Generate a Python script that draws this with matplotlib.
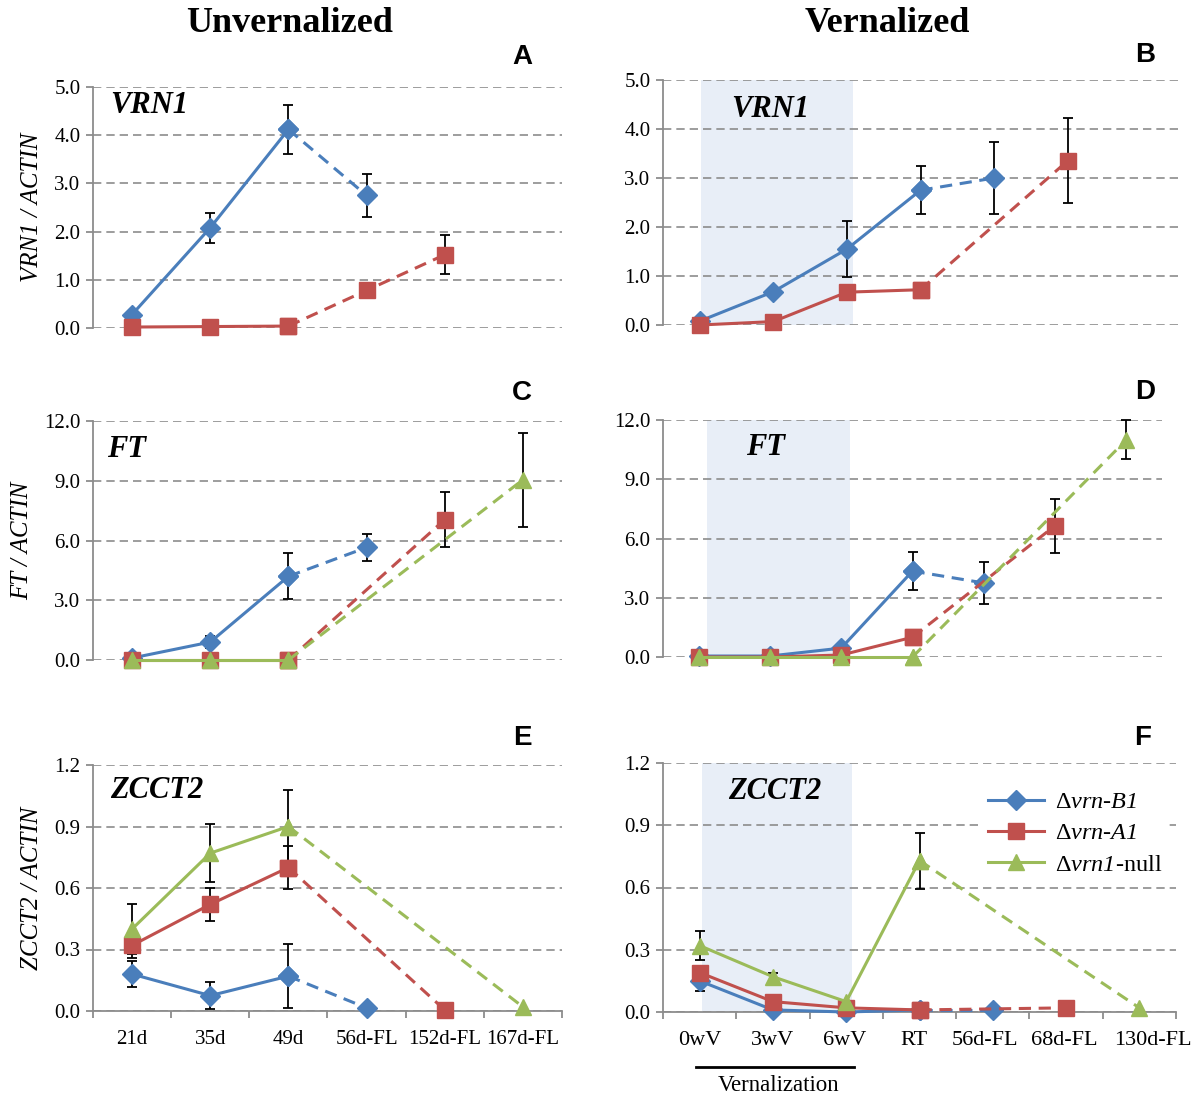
import matplotlib
matplotlib.use("Agg")
import matplotlib.pyplot as plt
from matplotlib.transforms import blended_transform_factory, ScaledTranslation

plt.rcParams['font.family'] = ['Liberation Serif', 'DejaVu Serif']
plt.rcParams['mathtext.fontset'] = 'custom'
plt.rcParams['mathtext.rm'] = 'Liberation Serif'
plt.rcParams['mathtext.it'] = 'Liberation Serif:italic'
plt.rcParams['mathtext.sf'] = 'Liberation Serif:italic'  # used for italic digits too
plt.rcParams['mathtext.bf'] = 'Liberation Serif:bold'

# categories
unv_days = ['21d', '35d', '49d', '56d-FL', '152d-FL', '167d-FL']
ver_days = ['0wV', '3wV', '6wV', 'RT', '56d-FL', '68d-FL', '130d-FL']

# A: VRN1, unvernalized
a_b1 = [0.28, 2.08, 4.12, 2.75, None, None]
a_b1_err = [None, 0.31, 0.50, 0.45, None, None]
a_a1 = [0.02, 0.03, 0.04, 0.78, 1.52, None]
a_a1_err = [None, None, None, None, 0.40, None]

# B: VRN1, vernalized
b_b1 = [0.08, 0.68, 1.55, 2.75, 3.00, None, None]
b_b1_err = [None, 0.07, 0.58, 0.49, 0.73, None, None]
b_a1 = [0.0, 0.07, 0.67, 0.72, None, 3.35, None]
b_a1_err = [None, None, None, 0.12, None, 0.87, None]

# C: FT, unvernalized
c_b1 = [0.1, 0.9, 4.2, 5.65, None, None]
c_b1_err = [None, 0.3, 1.15, 0.67, None, None]
c_a1 = [0.0, 0.0, 0.0, None, 7.05, None]
c_a1_err = [None, None, None, None, 1.37, None]
c_null = [0.0, 0.0, 0.0, None, None, 9.05]
c_null_err = [None, None, None, None, None, 2.37]

# D: FT, vernalized
d_b1 = [0.05, 0.05, 0.45, 4.35, 3.75, None, None]
d_b1_err = [None, None, None, 0.95, 1.05, None, None]
d_a1 = [0.0, 0.0, 0.1, 1.0, None, 6.65, None]
d_a1_err = [None, None, None, None, None, 1.37, None]
d_null = [0.0, 0.0, 0.0, 0.0, None, None, 11.0]
d_null_err = [None, None, None, None, None, None, 1.0]

# E: ZCCT2, unvernalized
e_b1 = [0.18, 0.075, 0.17, 0.015, None, None]
e_b1_err = [0.065, 0.065, 0.155, None, None, None]
e_a1 = [0.32, 0.52, 0.70, None, 0.005, None]
e_a1_err = [0.06, 0.08, 0.105, None, None, None]
e_null = [0.40, 0.77, 0.90, None, None, 0.02]
e_null_err = [0.12, 0.14, 0.18, None, None, None]

# F: ZCCT2, vernalized
f_b1 = [0.15, 0.01, 0.0, 0.01, 0.01, None, None]
f_b1_err = [0.05, None, None, None, None, None, None]
f_a1 = [0.19, 0.05, 0.02, 0.01, None, 0.02, None]
f_a1_err = [0.03, None, None, None, None, None, None]
f_null = [0.32, 0.17, 0.05, 0.73, None, None, 0.02]
f_null_err = [0.07, 0.02, None, 0.135, None, None, None]

BLUE = '#4a7ebb'
RED = '#c0504d'
GREEN = '#9bbb59'
GRID = '#8c8c8c'
SHADE = '#e8eef7'

labels = ['\u0394$\\mathsf{vrn}$-$\\mathsf{B1}$',
          '\u0394$\\mathsf{vrn}$-$\\mathsf{A1}$',
          '\u0394$\\mathsf{vrn1}$-null']


def draw_series(ax, vals, errs, color, marker, ms, pivot, label=None):
    idx = [i for i, v in enumerate(vals) if v is not None]
    solid = [i for i in idx if i <= pivot]
    dashed = [i for i in idx if i >= pivot]
    for i in idx:
        if errs[i] is not None:
            ax.errorbar(i, vals[i], yerr=errs[i], fmt='none', ecolor='black',
                        elinewidth=1.3, capsize=3.8, capthick=1.3, zorder=2,
                        clip_on=False)
    if len(dashed) > 1:
        ax.plot(dashed, [vals[i] for i in dashed], color=color, lw=2.2,
                ls=(0, (4, 2.5)), marker=marker, ms=ms, zorder=3, clip_on=False)
    ax.plot(solid, [vals[i] for i in solid], color=color, lw=2.2,
            marker=marker, ms=ms, zorder=3, clip_on=False, label=label)


def style_axis(ax, ncat, ymax, ystep, bottom_axis, xlabels=None, xfs=15):
    ax.set_xlim(-0.5, ncat - 0.5)
    ax.set_ylim(0, ymax)
    ticks = [ystep * k for k in range(int(round(ymax / ystep)) + 1)]
    ax.set_yticks(ticks)
    ax.set_yticklabels(['%.1f' % t for t in ticks], fontsize=15)
    ax.yaxis.grid(True, color=GRID, lw=1.2, ls=(0, (5, 3)))
    ax.set_axisbelow(True)
    for s in ['top', 'right']:
        ax.spines[s].set_visible(False)
    ax.spines['left'].set_color(GRID)
    ax.spines['left'].set_linewidth(1.3)
    ax.tick_params(axis='y', color=GRID, length=5, width=1.3, pad=4)
    if bottom_axis:
        ax.spines['bottom'].set_color(GRID)
        ax.spines['bottom'].set_linewidth(1.3)
        ax.set_xticks(range(ncat))
        ax.set_xticklabels(xlabels, fontsize=xfs)
        ax.set_xticks([k - 0.5 for k in range(ncat + 1)], minor=True)
        ax.tick_params(axis='x', which='major', length=0, pad=14)
        ax.tick_params(axis='x', which='minor', length=5, width=1.3, color=GRID)
    else:
        ax.spines['bottom'].set_visible(False)
        ax.set_xticks([])


fig = plt.figure(figsize=(11.93, 10.96), dpi=100)

def px_axes(left, top, right, bottom):
    return fig.add_axes([left / 1193, 1 - bottom / 1096,
                         (right - left) / 1193, (bottom - top) / 1096])

axA = px_axes(93, 87, 562, 328)
axB = px_axes(663, 80, 1178, 325)
axC = px_axes(93, 421, 562, 660)
axD = px_axes(663, 420, 1162, 657)
axE = px_axes(93, 765, 562, 1011)
axF = px_axes(663, 763, 1176, 1012)

# shaded vernalization period
axB.axvspan(0.02, 2.08, color=SHADE, lw=0, zorder=0)
axD.axvspan(0.12, 2.12, color=SHADE, lw=0, zorder=0)
axF.axvspan(0.03, 2.08, color=SHADE, lw=0, zorder=0)

style_axis(axA, 6, 5.0, 1.0, False)
style_axis(axB, 7, 5.0, 1.0, False)
style_axis(axC, 6, 12.0, 3.0, False)
style_axis(axD, 7, 12.0, 3.0, False)
style_axis(axE, 6, 1.2, 0.3, True, unv_days, 15)
style_axis(axF, 7, 1.2, 0.3, True, ver_days, 16)

# Excel nudges the crowded labels of panel F apart
for lab, dx in zip(axF.get_xticklabels(), [0, 0, -2, -6, -8, -2, 14]):
    lab.set_transform(lab.get_transform() + ScaledTranslation(dx / 100, 0, fig.dpi_scale_trans))

draw_series(axA, a_b1, a_b1_err, BLUE, 'D', 10, 2)
draw_series(axA, a_a1, a_a1_err, RED, 's', 11, 2)

draw_series(axB, b_b1, b_b1_err, BLUE, 'D', 10, 3)
draw_series(axB, b_a1, b_a1_err, RED, 's', 11, 3)

draw_series(axC, c_b1, c_b1_err, BLUE, 'D', 10, 2)
draw_series(axC, c_a1, c_a1_err, RED, 's', 11, 2)
draw_series(axC, c_null, c_null_err, GREEN, '^', 11, 2)

draw_series(axD, d_b1, d_b1_err, BLUE, 'D', 10, 3)
draw_series(axD, d_a1, d_a1_err, RED, 's', 11, 3)
draw_series(axD, d_null, d_null_err, GREEN, '^', 11, 3)

draw_series(axE, e_b1, e_b1_err, BLUE, 'D', 10, 2)
draw_series(axE, e_a1, e_a1_err, RED, 's', 11, 2)
draw_series(axE, e_null, e_null_err, GREEN, '^', 11, 2)

draw_series(axF, f_b1, f_b1_err, BLUE, 'D', 10, 3, labels[0])
draw_series(axF, f_a1, f_a1_err, RED, 's', 11, 3, labels[1])
draw_series(axF, f_null, f_null_err, GREEN, '^', 11, 3, labels[2])

leg = axF.legend(loc='upper left', bbox_to_anchor=(0.595, 0.965), fontsize=17.5,
                 frameon=True, handlelength=2.3, labelspacing=0.38,
                 borderpad=0.3, handletextpad=0.45)
leg.get_frame().set_facecolor('white')
leg.get_frame().set_edgecolor('none')
leg.get_frame().set_alpha(1)

# gene names inside panels
gene_kw = dict(fontsize=22, fontweight='bold', style='italic', va='center')
axA.text(0.036, 0.925, 'VRN1', transform=axA.transAxes, ha='left', **gene_kw)
axB.text(0.209, 0.878, 'VRN1', transform=axB.transAxes, ha='center', **gene_kw)
axC.text(0.03, 0.879, 'FT', transform=axC.transAxes, ha='left', **gene_kw)
axD.text(0.205, 0.886, 'FT', transform=axD.transAxes, ha='center', **gene_kw)
axE.text(0.036, 0.898, 'ZCCT2', transform=axE.transAxes, ha='left', **gene_kw)
axF.text(0.218, 0.884, 'ZCCT2', transform=axF.transAxes, ha='center', **gene_kw)

# y labels
for ax, txt in [(axA, 'VRN1 / ACTIN'), (axC, 'FT / ACTIN'), (axE, 'ZCCT2 / ACTIN')]:
    ax.set_ylabel(txt, fontsize=18, style='italic', labelpad=8)

# vernalization bracket under panel F
tr = blended_transform_factory(axF.transData, axF.transAxes)
axF.plot([-0.05, 2.1], [-0.221, -0.221], color='black', lw=2, transform=tr,
         clip_on=False)
axF.text(1.08, -0.295, 'Vernalization', transform=tr, ha='center',
         va='center', fontsize=16.5)

# column titles and panel letters
fig.text(290 / 1193, 1 - 24 / 1096, 'Unvernalized', ha='center', va='center',
         fontsize=26, fontweight='bold')
fig.text(887 / 1193, 1 - 24 / 1096, 'Vernalized', ha='center', va='center',
         fontsize=26, fontweight='bold')
for letter, x, y in [('A', 522, 57), ('B', 1145, 55), ('C', 522, 393),
                     ('D', 1145, 392), ('E', 522, 738), ('F', 1143, 738)]:
    fig.text(x / 1193, 1 - y / 1096, letter, ha='center', va='center',
             fontsize=20, fontweight='bold', family='Liberation Sans')

fig.savefig('out.png', dpi=100)
